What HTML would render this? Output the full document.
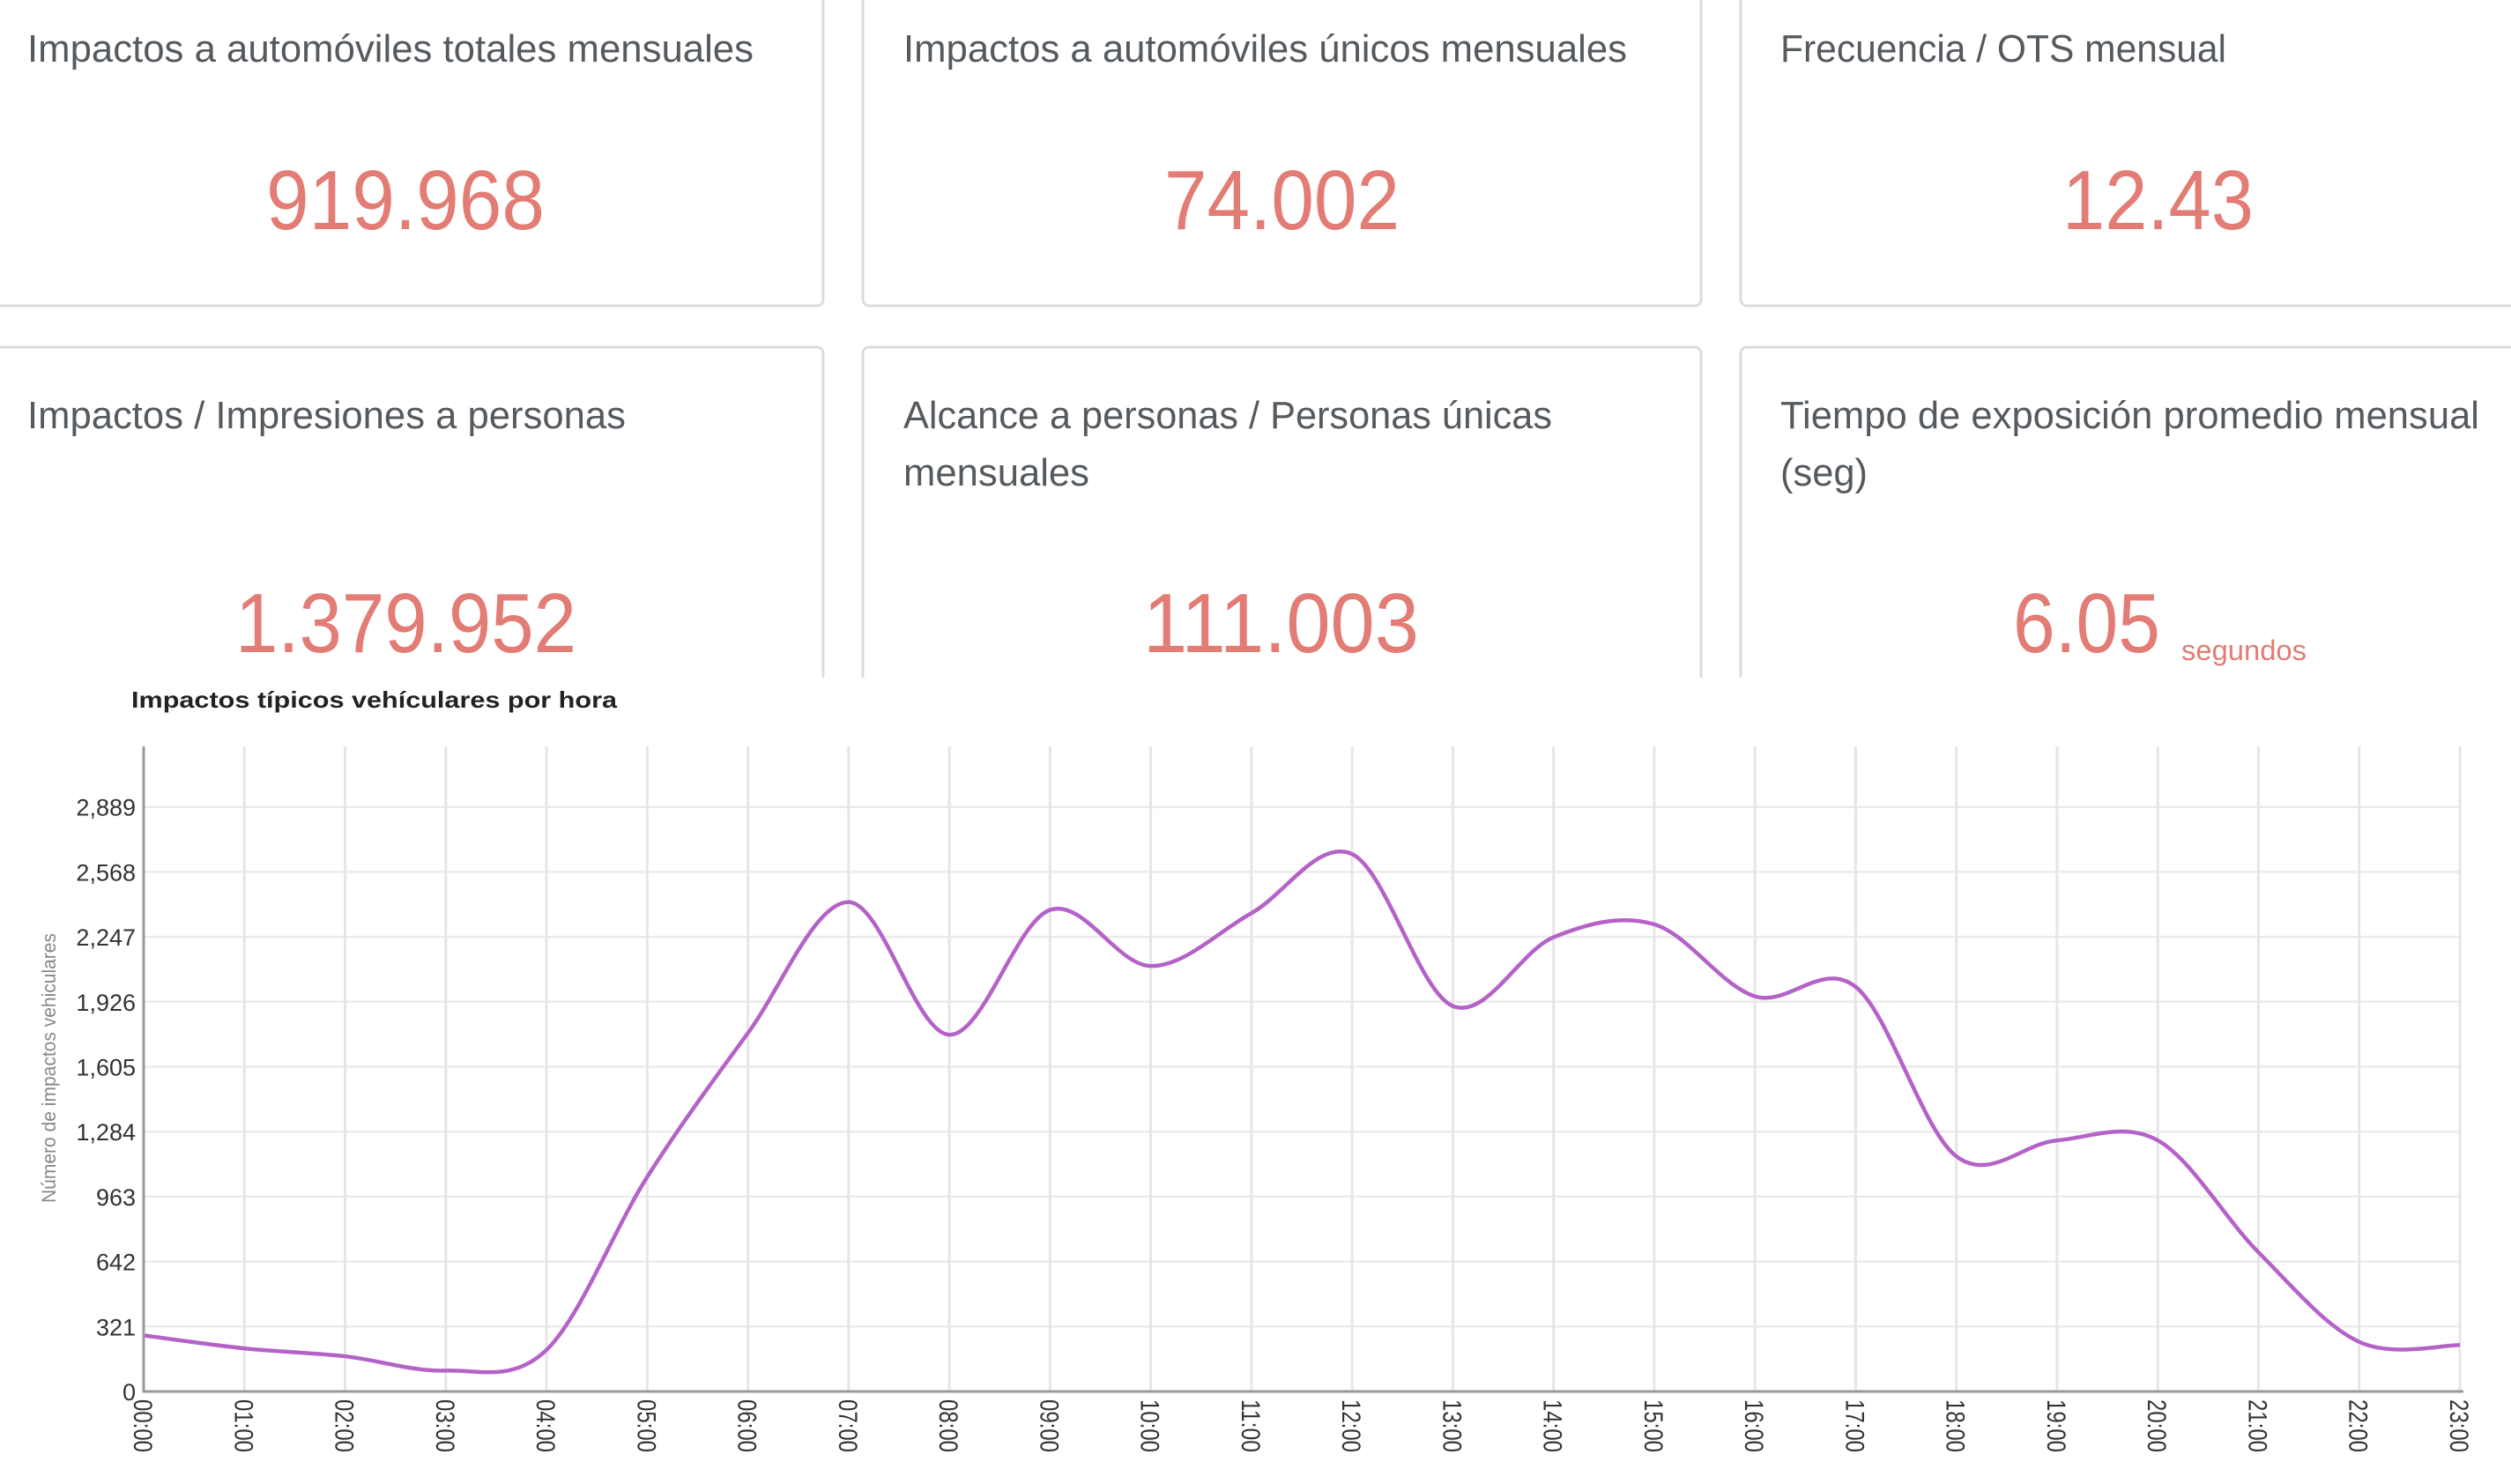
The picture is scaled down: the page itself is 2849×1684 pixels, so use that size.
<!DOCTYPE html>
<html><head><meta charset="utf-8"><style>
html,body{margin:0;padding:0;background:#fff;width:2849px;height:1684px;overflow:hidden}
svg{display:block}
.t{font-family:"Liberation Sans",sans-serif;fill:#555a5f;font-size:44px}
.n{font-family:"Liberation Sans",sans-serif;fill:#e27c74;font-size:96px}
.yl{font-family:"Liberation Sans",sans-serif;fill:#333;font-size:27px;text-anchor:end}
.xl{font-family:"Liberation Sans",sans-serif;fill:#333;font-size:30px}
</style></head><body>
<svg id="s" width="2849" height="1684" viewBox="0 0 2849 1684" xmlns="http://www.w3.org/2000/svg">
<g fill="#fff" stroke="#dcdcdc" stroke-width="3">
<rect x="-20" y="-20" width="954" height="367" rx="7"/>
<rect x="979" y="-20" width="951" height="367" rx="7"/>
<rect x="1975" y="-20" width="900" height="367" rx="7"/>
<rect x="-20" y="394" width="954" height="420" rx="7"/>
<rect x="979" y="394" width="951" height="420" rx="7"/>
<rect x="1975" y="394" width="900" height="420" rx="7"/>
</g>
<rect x="0" y="769" width="2849" height="915" fill="#fff"/>
<text class="t" x="31" y="70" textLength="824" lengthAdjust="spacingAndGlyphs">Impactos a automóviles totales mensuales</text>
<text class="t" x="1025" y="70" textLength="821" lengthAdjust="spacingAndGlyphs">Impactos a automóviles únicos mensuales</text>
<text class="t" x="2020" y="70" textLength="506" lengthAdjust="spacingAndGlyphs">Frecuencia / OTS mensual</text>
<text class="t" x="31" y="486" textLength="679" lengthAdjust="spacingAndGlyphs">Impactos / Impresiones a personas</text>
<text class="t" x="1025" y="486" textLength="736" lengthAdjust="spacingAndGlyphs">Alcance a personas / Personas únicas</text>
<text class="t" x="1025" y="551" textLength="211" lengthAdjust="spacingAndGlyphs">mensuales</text>
<text class="t" x="2020" y="486" textLength="793" lengthAdjust="spacingAndGlyphs">Tiempo de exposición promedio mensual</text>
<text class="t" x="2020" y="551" textLength="99" lengthAdjust="spacingAndGlyphs">(seg)</text>
<text class="n" x="302" y="260" textLength="316" lengthAdjust="spacingAndGlyphs">919.968</text>
<text class="n" x="1321" y="260" textLength="267" lengthAdjust="spacingAndGlyphs">74.002</text>
<text class="n" x="2340" y="260" textLength="217" lengthAdjust="spacingAndGlyphs">12.43</text>
<text class="n" x="267" y="740" textLength="387" lengthAdjust="spacingAndGlyphs">1.379.952</text>
<text class="n" x="1297" y="740" textLength="313" lengthAdjust="spacingAndGlyphs">111.003</text>
<text class="n" x="2284" y="740" textLength="167" lengthAdjust="spacingAndGlyphs">6.05</text>
<text x="2475" y="749" font-family="Liberation Sans,sans-serif" font-size="32" fill="#e27c74" textLength="142" lengthAdjust="spacingAndGlyphs">segundos</text>
<text x="149" y="803" font-family="Liberation Sans,sans-serif" font-size="26" font-weight="bold" fill="#222" textLength="551" lengthAdjust="spacingAndGlyphs">Impactos típicos vehículares por hora</text>
<text transform="translate(63,1212) rotate(-90)" text-anchor="middle" font-family="Liberation Sans,sans-serif" font-size="22" fill="#888" textLength="306" lengthAdjust="spacingAndGlyphs">Número de impactos vehiculares</text>
<g id="grid"></g>
<path id="curve" fill="none" stroke="#b562c8" stroke-width="4.5"/>
<line x1="163" y1="847" x2="163" y2="1580" stroke="#999" stroke-width="3"/>
<line x1="162" y1="1579" x2="2795" y2="1579" stroke="#999" stroke-width="3"/>
<g id="labels"></g>
</svg>
<script>
var NS="http://www.w3.org/2000/svg";
var x0=163,dx=114.26,y0=1579,k=73.7/321;
var g=document.getElementById('grid'),lb=document.getElementById('labels');
function el(t,a,p,txt){var e=document.createElementNS(NS,t);for(var q in a)e.setAttribute(q,a[q]);if(txt!==undefined)e.textContent=txt;p.appendChild(e);return e;}
for(var i=1;i<=9;i++){var y=y0-i*73.7;el('line',{x1:163,x2:2793,y1:y,y2:y,stroke:'#ebebeb','stroke-width':2.5},g);}
var yv=[0,321,642,963,1284,1605,1926,2247,2568,2889];
var ys=["0","321","642","963","1,284","1,605","1,926","2,247","2,568","2,889"];
for(var i=0;i<10;i++){el('text',{'class':'yl',x:154,y:y0-i*73.7+10},lb,ys[i]);}
for(var h=0;h<24;h++){var x=x0+h*dx;if(h>0)el('line',{x1:x,x2:x,y1:847,y2:1579,stroke:'#e6e6e6','stroke-width':3},g);
var s=(h<10?'0':'')+h+':00';el('text',{'class':'xl',transform:'translate('+(x-11)+',1588) rotate(90)',textLength:60,lengthAdjust:'spacingAndGlyphs'},lb,s);}
var v=[277,213,174,103,205,1060,1771,2419,1763,2380,2103,2364,2656,1905,2245,2309,1953,2000,1162,1241,1241,688,245,229];
var P=v.map(function(val,i){return [x0+i*dx,y0-val*k];});
var d='M'+P[0][0]+','+P[0][1];
for(var i=0;i<P.length-1;i++){var p0=P[i-1]||P[i],p1=P[i],p2=P[i+1],p3=P[i+2]||P[i+1];
var c1=[p1[0]+(p2[0]-p0[0])/6,p1[1]+(p2[1]-p0[1])/6],c2=[p2[0]-(p3[0]-p1[0])/6,p2[1]-(p3[1]-p1[1])/6];
d+=' C'+c1[0]+','+c1[1]+' '+c2[0]+','+c2[1]+' '+p2[0]+','+p2[1];}
document.getElementById('curve').setAttribute('d',d);
</script>
</body></html>
